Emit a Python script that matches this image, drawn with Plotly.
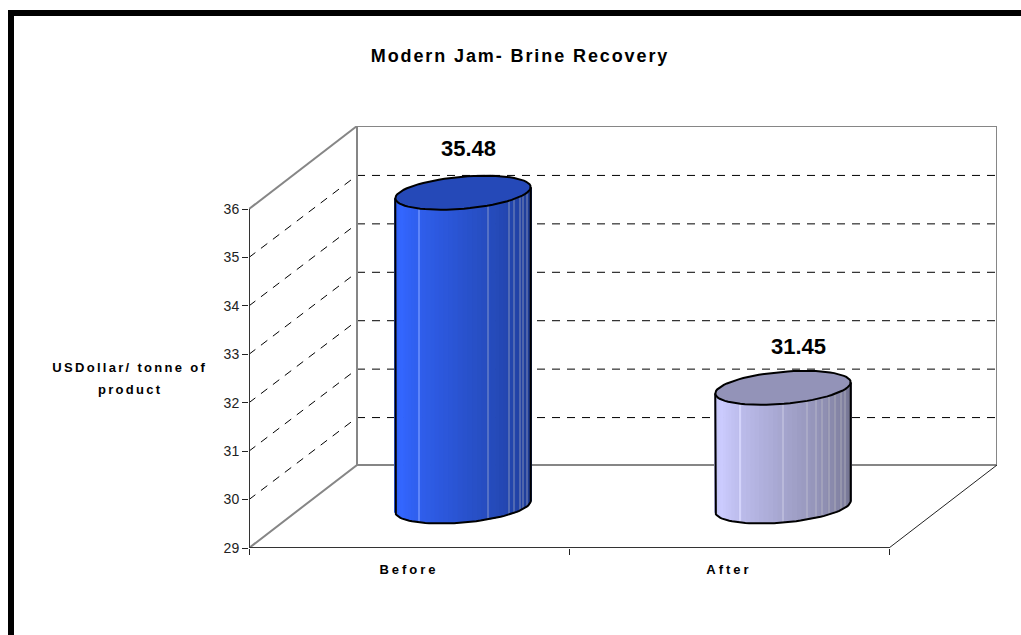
import math
import plotly.graph_objects as go

# ---- data ----
categories = ["Before", "After"]
values = [35.48, 31.45]
y_ticks = [29, 30, 31, 32, 33, 34, 35, 36]
title_text = "Modern Jam- Brine Recovery"
y_title_lines = ["USDollar/ tonne of", "product"]

# ---- styling ----
base_colors = [(0x33, 0x66, 0xFF), (0xCC, 0xCC, 0xFF)]
label_shift = [(5, 13), (15, 10)]
seam_fractions = [
    [0.176, 0.684, 0.838, 0.88, 0.92, 0.945, 0.97],
    [0.18, 0.50, 0.68, 0.74, 0.79, 0.84, 0.885, 0.925, 0.96],
]
FONT = "Liberation Sans"

# ---- oblique projection of the 3-D chart box onto the 2-D axes ----
W, H = 1021, 635
L, R, T, B = 249, 997, 126, 548
PX_PER_CAT = 320.0
PX_PER_VAL = 339.0 / 7
DX = 108.0 / PX_PER_CAT        # category units per unit of depth
DY = 83.0 / PX_PER_VAL         # value units per unit of depth
VMIN, VMAX = y_ticks[0], y_ticks[-1]
n_cat = len(categories)
x_range = [0, n_cat + DX]
y_range = [VMIN, VMAX + DY]
ONE_PX = 1.0 / PX_PER_CAT
ONE_PY = 1.0 / PX_PER_VAL


def proj(cat, val, depth=0.0):
    return cat + depth * DX, val + depth * DY


def fx(px):
    return (px - L) / (R - L)


def fy(py):
    return (B - py) / (B - T)


RA = 64.0 / PX_PER_CAT         # radius along the category axis
RD = 0.205                     # radius along the depth axis


def ring(cat, val, t):
    return proj(cat + RA * math.cos(t), val, 0.5 + RD * math.sin(t))


T0 = math.atan2(RD * DX, RA)
NS = 44


def shade(col, k):
    return "#%02X%02X%02X" % tuple(int(round(c * k)) for c in col)


def body_k(f):
    if f < 0.14:
        return 0.92 + 0.08 * f / 0.14
    return 1.0 - 0.45 * (f - 0.14) / 0.86


def lighten(col, k, amount=0.22):
    return "#%02X%02X%02X" % tuple(int(round(c * k + (255 - c * k) * amount)) for c in col)


fig = go.Figure()


def line(xs, ys, color, width, dash="solid", axes=("x", "y")):
    fig.add_trace(go.Scatter(x=xs, y=ys, mode="lines", xaxis=axes[0], yaxis=axes[1],
                             line=dict(color=color, width=width, dash=dash),
                             hoverinfo="skip", showlegend=False, cliponaxis=False))


# walls
for v in y_ticks[1:-1]:
    x0, y0 = proj(0, v, 0)
    x1, y1 = proj(0, v, 1)
    x2, y2 = proj(n_cat, v, 1)
    line([x0, x1], [y0, y1 - ONE_PY], "#000000", 1, "8px,7px")
    line([x1, x2], [y1 - ONE_PY, y2 - ONE_PY], "#000000", 1, "8px,7px")

c = [proj(0, VMIN, 0), proj(0, VMIN, 1), proj(0, VMAX, 1), proj(0, VMAX, 0)]
line([p[0] for p in c[:3]], [p[1] for p in c[:3]], "#868686", 2)
line([c[2][0], c[3][0]], [c[2][1], c[3][1]], "#868686", 2)
p = [proj(0, VMAX, 1), proj(n_cat, VMAX, 1), proj(n_cat, VMIN, 1), proj(0, VMIN, 1)]
line([q[0] for q in p], [q[1] for q in p], "#868686", 2)
f0, f1 = proj(n_cat, VMIN, 0), proj(n_cat, VMIN, 1)
line([f0[0], f1[0]], [f0[1], f1[1]], "#222222", 1)

# cylinders
OV = ("x2", "y2")
for i, (name, val) in enumerate(zip(categories, values)):
    cat = i + 0.5
    xs, widths, bases, tops, cols = [], [], [], [], []
    for s in range(NS):
        t0 = T0 + math.pi + math.pi * s / NS
        t1 = T0 + math.pi + math.pi * (s + 1) / NS
        a0, b0 = ring(cat, VMIN, t0), ring(cat, val, t0)
        a1, b1 = ring(cat, VMIN, t1), ring(cat, val, t1)
        xs.append((a0[0] + a1[0]) / 2)
        widths.append(abs(a1[0] - a0[0]) + 0.8 * ONE_PX)
        bases.append((a0[1] + a1[1]) / 2)
        tops.append((b0[1] + b1[1]) / 2 - (a0[1] + a1[1]) / 2)
        cols.append(shade(base_colors[i], body_k((s + 0.5) / NS)))
    # faint lighter seams between the facets of the cylinder
    xl = ring(cat, VMIN, T0 + math.pi)[0]
    xr = ring(cat, VMIN, T0)[0]
    for fs in seam_fractions[i]:
        xq = xl + fs * (xr - xl)
        j = min(range(NS), key=lambda k: abs(xs[k] - xq))
        xs.append(xq)
        widths.append(ONE_PX)
        bases.append(bases[j])
        tops.append(tops[j])
        cols.append(lighten(base_colors[i], body_k(fs)))
    fig.add_trace(go.Bar(x=xs, y=tops, base=bases, width=widths, name=name,
                         xaxis="x2", yaxis="y2", showlegend=False, hoverinfo="skip",
                         marker=dict(color=cols, line=dict(width=0))))
    ts = [2 * math.pi * k / 72 for k in range(73)]
    top = [ring(cat, val, t) for t in ts]
    fig.add_trace(go.Scatter(x=[q[0] for q in top], y=[q[1] for q in top], mode="lines",
                             fill="toself", fillcolor=shade(base_colors[i], 0.72),
                             line=dict(color="#000000", width=2), xaxis="x2", yaxis="y2",
                             hoverinfo="skip", showlegend=False))
    arc = [T0 + math.pi + math.pi * k / 48 for k in range(49)]
    low = [ring(cat, VMIN, t) for t in arc]
    left = ring(cat, val, arc[0])
    right = ring(cat, val, arc[-1])
    ox = [left[0]] + [q[0] for q in low] + [right[0]]
    oy = [left[1]] + [q[1] for q in low] + [right[1]]
    line(ox, oy, "#000000", 2, axes=OV)

# front axis lines
a0, a1 = proj(0, VMIN), proj(0, VMAX)
line([a0[0], a1[0]], [a0[1], a1[1]], "#333333", 2, axes=OV)
b1 = proj(n_cat, VMIN)
line([a0[0], b1[0]], [a0[1], b1[1]], "#333333", 2, axes=OV)

annotations = []
for txt, py in zip(y_title_lines, (367, 389)):
    annotations.append(dict(text=txt, xref="paper", yref="paper", x=fx(130), y=fy(py),
                            showarrow=False, xanchor="center", yanchor="middle", align="center",
                            font=dict(family=FONT, size=13, color="#000000", weight=700)))
for i, val in enumerate(values):
    cx, cy = proj(i + 0.5, val, 0.5 + RD)
    annotations.append(dict(text="%.2f" % val, xref="x2", yref="y2", x=i + 0.5 + 0.5 * DX,
                            y=cy, showarrow=False, xanchor="center", yanchor="bottom",
                            xshift=label_shift[i][0], yshift=label_shift[i][1],
                            font=dict(family=FONT, size=22, color="#000000", weight=700)))

shapes = [
    dict(type="rect", xref="paper", yref="paper", x0=fx(8), x1=fx(W), y0=fy(16), y1=fy(10),
         fillcolor="#000000", line=dict(width=0)),
    dict(type="rect", xref="paper", yref="paper", x0=fx(8), x1=fx(14), y0=fy(H), y1=fy(10),
         fillcolor="#000000", line=dict(width=0)),
]

fig.update_layout(
    width=W, height=H, margin=dict(l=L, r=W - R, t=T, b=H - B, autoexpand=False),
    paper_bgcolor="#FFFFFF", plot_bgcolor="#FFFFFF", barmode="overlay", showlegend=False,
    title=dict(text=title_text, x=520 / W, xref="container", xanchor="center",
               y=1 - 56 / H, yref="container", yanchor="middle",
               font=dict(family=FONT, size=18, color="#000000", weight=700)),
    annotations=annotations, shapes=shapes,
    xaxis=dict(range=x_range, showgrid=False, zeroline=False, showline=False, ticks="",
               tickmode="array", tickvals=[i + 0.5 for i in range(n_cat)], ticktext=categories,
               ticklabelstandoff=12,
               tickfont=dict(family=FONT, size=13, color="#000000", weight=700)),
    yaxis=dict(range=y_range, showgrid=False, zeroline=False, showline=False, ticks="outside",
               ticklen=6, tickcolor="#222222", tickwidth=1, tickmode="array", tickvals=y_ticks,
               tickfont=dict(family=FONT, size=14, color="#222222")),
    xaxis2=dict(range=x_range, overlaying="x", anchor="y2", showgrid=False, zeroline=False,
                showline=False, ticks="outside", ticklen=6, tickcolor="#222222", tickwidth=1,
                tickmode="array", tickvals=list(range(n_cat + 1)), showticklabels=False),
    yaxis2=dict(range=y_range, overlaying="y", anchor="x2", visible=False),
)

post = """
document.body.style.margin = '0';
function sp(sel, v) { document.querySelectorAll(sel).forEach(function (e) { e.style.letterSpacing = v; }); }
sp('.gtitle', '1.9px');
sp('.xtick text', '3px');
sp('.annotation[data-index="0"] text', '2.3px');
sp('.annotation[data-index="1"] text', '2.3px');
"""
fig.write_html("out.html", post_script=post, config=dict(displayModeBar=False))
